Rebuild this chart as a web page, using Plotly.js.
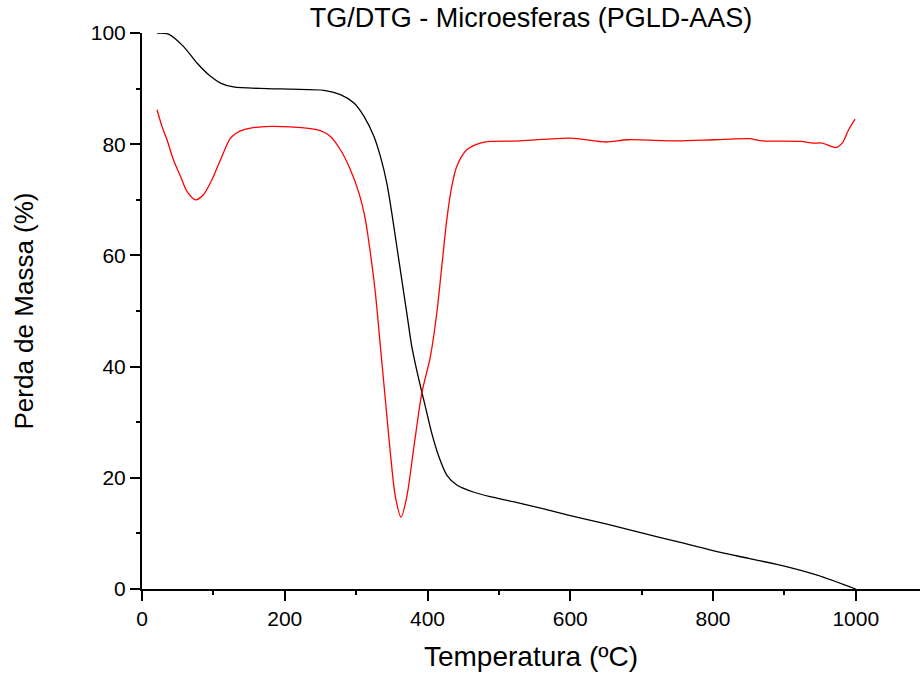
<!DOCTYPE html>
<html>
<head>
<meta charset="utf-8">
<script src="https://cdn.plot.ly/plotly-3.0.1.min.js"></script>
<style>html,body{margin:0;padding:0;background:#fff;}#chart{width:920px;height:681px;}</style>
</head>
<body>
<div id="chart"></div>
<script>
// TG curve (black)
const tgTemp = [21, 37, 58, 77, 96, 110, 128, 175, 208, 255, 278, 297, 311, 325, 334, 343, 350, 357, 364, 371, 378, 388, 397, 406, 416, 427, 441, 465, 488, 520, 560, 600, 650, 700, 750, 800, 850, 904, 946, 1000];
const tgMass = [100, 99.8, 97.6, 94.6, 92.2, 91.0, 90.3, 90.0, 89.9, 89.7, 88.9, 87.4, 85.0, 81.4, 77.8, 73.0, 67.6, 61.6, 55.6, 49.6, 43.6, 37.6, 32.8, 28.0, 23.8, 20.5, 18.7, 17.4, 16.6, 15.7, 14.5, 13.2, 11.7, 10.1, 8.5, 6.9, 5.5, 4.0, 2.5, 0];
// DTG curve (red), drawn on the same scale
const dtgTemp = [21, 28, 35, 44, 54, 63, 75, 86, 98, 110, 124, 138, 152, 180, 208, 245, 264, 278, 292, 304, 313, 320, 327, 334, 341, 348, 355, 363, 371, 381, 392, 404, 413, 420, 427, 434, 441, 455, 474, 488, 530, 600, 650, 680, 750, 800, 850, 870, 923, 940, 953, 972, 981, 990, 999];
const dtgVal = [86.2, 83.2, 80.8, 77.2, 74.2, 71.5, 70.0, 70.9, 73.6, 77.2, 81.1, 82.4, 82.9, 83.2, 83.1, 82.6, 81.4, 79.0, 75.4, 71.2, 66.4, 60.4, 53.2, 43.6, 34.0, 24.4, 16.6, 12.9, 16.6, 25.6, 35.2, 41.8, 49.6, 58.0, 66.4, 72.4, 76.0, 79.0, 80.2, 80.5, 80.6, 81.1, 80.4, 80.8, 80.6, 80.8, 81.0, 80.6, 80.5, 80.2, 80.2, 79.4, 80.2, 82.6, 84.5];

const titleText = 'TG/DTG - Microesferas (PGLD-AAS)';
const xTitle = 'Temperatura (ºC)';
const yTitle = 'Perda de Massa (%)';

const font = 'Liberation Sans, Arial, sans-serif';

const traces = [
  {x: tgTemp, y: tgMass, type: 'scatter', mode: 'lines', line: {color: '#000000', width: 1.3, shape: 'spline', smoothing: 0.8}, showlegend: false},
  {x: dtgTemp, y: dtgVal, type: 'scatter', mode: 'lines', line: {color: '#ff0000', width: 1.3, shape: 'spline', smoothing: 0.8}, showlegend: false}
];

const layout = {
  width: 920, height: 681,
  margin: {l: 142, r: 0, t: 33, b: 92},
  paper_bgcolor: '#ffffff', plot_bgcolor: '#ffffff',
  font: {family: font, color: '#000000'},
  title: {text: titleText, font: {family: font, size: 27, color: '#000'}, x: 0.5, xref: 'paper', y: 0.974, yref: 'container', yanchor: 'middle'},
  xaxis: {
    range: [0, 1090], showgrid: false, zeroline: false,
    showline: true, linecolor: '#000', linewidth: 2,
    ticks: 'outside', ticklen: 10, tickwidth: 2, tickcolor: '#000',
    tick0: 0, dtick: 200,
    minor: {ticks: 'outside', ticklen: 4, tickwidth: 2, tickcolor: '#000', dtick: 100, showgrid: false},
    tickfont: {family: font, size: 21, color: '#000'},
    title: {text: xTitle, font: {family: font, size: 28, color: '#000'}, standoff: 17}
  },
  yaxis: {
    range: [0, 100], showgrid: false, zeroline: false,
    showline: true, linecolor: '#000', linewidth: 2,
    ticks: 'outside', ticklen: 10, tickwidth: 2, tickcolor: '#000',
    tick0: 0, dtick: 20,
    minor: {ticks: 'outside', ticklen: 4, tickwidth: 2, tickcolor: '#000', dtick: 10, showgrid: false},
    tickfont: {family: font, size: 21, color: '#000'},
    title: {text: yTitle, font: {family: font, size: 26, color: '#000'}, standoff: 50}
  }
};

Plotly.newPlot('chart', traces, layout, {staticPlot: true, displayModeBar: false});
</script>
</body>
</html>
